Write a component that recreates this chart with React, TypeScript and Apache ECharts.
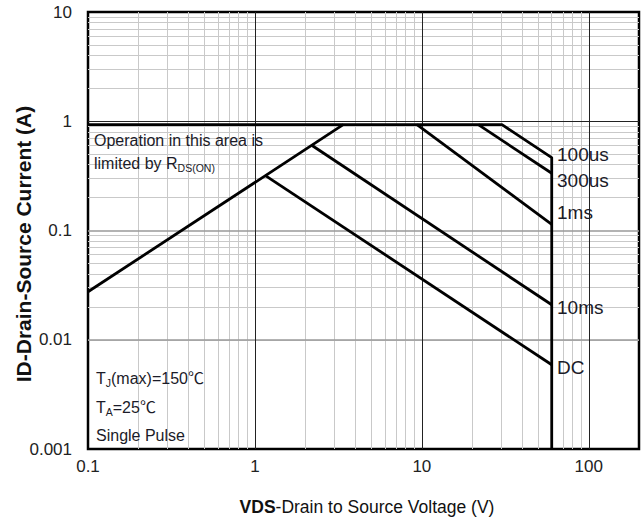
import React, { useEffect, useRef } from 'react';
import * as echarts from 'echarts';

// Axis tick labels (decades)
const xTickLabels = ['0.1', '1', '10', '100'];
const yTickLabels = ['0.001', '0.01', '0.1', '1', '10'];

// Safe operating area boundaries [VDS (V), ID (A)]
const rdsLimit = [[0.1, 0.0275], [3.38, 0.93]];
const curve100us = [[0.1, 0.93], [30.2, 0.93], [60, 0.465], [60, 0.001]];
const curve300us = [[21.8, 0.93], [60, 0.334]];
const curve1ms = [[9.35, 0.93], [60, 0.114]];
const curve10ms = [[2.2, 0.6], [60, 0.0209]];
const curveDC = [[1.15, 0.32], [60, 0.0059]];
const curveNames = ['100us', '300us', '1ms', '10ms', 'DC'];

const FONT = '"Liberation Sans", Arial, "Noto Sans CJK SC", sans-serif';

export default function App() {
  const ref = useRef<HTMLDivElement>(null);

  useEffect(() => {
    if (!ref.current) return;
    document.body.style.margin = '0';
    const chart = echarts.init(ref.current, undefined, { renderer: 'svg' });

    const xDecades = [0.1, 1, 10, 100];
    const yDecades = [0.001, 0.01, 0.1, 1];
    const minor = '#c9c9c9';
    const gridLines: any[] = [];
    xDecades.forEach((d) => {
      for (let k = 2; k <= 9; k++) {
        const v = Number((k * d).toPrecision(6));
        if (v < 200) gridLines.push({ xAxis: v, lineStyle: { color: minor, width: 1, type: 'solid' } });
      }
    });
    yDecades.forEach((d) => {
      for (let k = 2; k <= 9; k++) {
        const v = Number((k * d).toPrecision(6));
        gridLines.push({ yAxis: v, lineStyle: { color: minor, width: 1, type: 'solid' } });
      }
    });
    [0.01, 0.1].forEach((v) => gridLines.push({ yAxis: v, lineStyle: { color: '#9a9a9a', width: 1.5, type: 'solid' } }));
    gridLines.push({ yAxis: 1, lineStyle: { color: '#222', width: 1, type: 'solid' } });
    [1, 10, 100].forEach((v) => gridLines.push({ xAxis: v, lineStyle: { color: '#222', width: 1, type: 'solid' } }));

    const curveSeries = [rdsLimit, curve100us, curve300us, curve1ms, curve10ms, curveDC].map((d, i) => ({
      type: 'line',
      name: i === 0 ? 'RDS(ON)' : curveNames[i - 1],
      data: d,
      symbol: 'none',
      silent: true,
      z: 5,
      lineStyle: { color: '#000', width: 2.8 },
    }));

    const labelY = [154, 180, 212, 307, 367];
    const txt = '#1b1b28';
    const subRich = {
      s: { fontSize: 10.5, fontFamily: FONT, fill: txt, verticalAlign: 'bottom', lineHeight: 11 },
      m: { fontSize: 16, fontFamily: FONT, fill: txt, lineHeight: 20 },
    };

    const fmt = (labels: string[], offset: number) => (v: number) => {
      const l = Math.log10(v);
      const e = Math.round(l);
      if (Math.abs(l - e) > 1e-6) return '';
      return labels[e + offset] ?? '';
    };

    chart.setOption({
      animation: false,
      backgroundColor: '#fff',
      grid: {
        left: 88,
        top: 12,
        width: 551,
        height: 437,
        show: true,
        borderColor: '#000',
        borderWidth: 2.5,
        backgroundColor: 'transparent',
      },
      xAxis: {
        type: 'log',
        logBase: 10,
        min: 0.1,
        max: 200,
        axisLine: { show: false },
        axisTick: { show: false },
        splitLine: { show: false },
        axisLabel: {
          formatter: fmt(xTickLabels, 1),
          fontSize: 17,
          color: '#222',
          fontFamily: FONT,
          margin: 9,
          showMaxLabel: false,
        },
      },
      yAxis: {
        type: 'log',
        logBase: 10,
        min: 0.001,
        max: 10,
        axisLine: { show: false },
        axisTick: { show: false },
        splitLine: { show: false },
        axisLabel: {
          formatter: fmt(yTickLabels, 3),
          fontSize: 17,
          color: '#222',
          fontFamily: FONT,
          margin: 16,
        },
      },
      series: [
        {
          type: 'line',
          name: 'grid',
          data: [],
          silent: true,
          z: 1,
          markLine: {
            silent: true,
            symbol: ['none', 'none'],
            label: { show: false },
            animation: false,
            data: gridLines,
          },
        },
        ...curveSeries,
      ],
      graphic: [
        {
          type: 'text', x: 94, y: 140, z: 10,
          style: { text: 'Operation in this area is', fontSize: 16, fontFamily: FONT, fill: txt, align: 'left', verticalAlign: 'middle' },
        },
        {
          type: 'text', x: 94, y: 163, z: 10,
          style: { text: '{m|limited by R}{s|DS(ON)}', rich: subRich, align: 'left', verticalAlign: 'middle' },
        },
        {
          type: 'text', x: 96, y: 378, z: 10,
          style: { text: '{m|T}{s|J}{m|(max)=150℃}', rich: subRich, align: 'left', verticalAlign: 'middle' },
        },
        {
          type: 'text', x: 96, y: 407, z: 10,
          style: { text: '{m|T}{s|A}{m|=25℃}', rich: subRich, align: 'left', verticalAlign: 'middle' },
        },
        {
          type: 'text', x: 96, y: 435, z: 10,
          style: { text: 'Single Pulse', fontSize: 16, fontFamily: FONT, fill: txt, align: 'left', verticalAlign: 'middle' },
        },
        ...curveNames.map((n, i) => ({
          type: 'text', x: 557, y: labelY[i], z: 10,
          style: { text: n, fontSize: 19, fontFamily: FONT, fill: txt, align: 'left', verticalAlign: 'middle' },
        })),
        {
          type: 'text', x: 367, y: 507, z: 10,
          style: {
            text: '{b|VDS}{r|-Drain to Source Voltage (V)}',
            align: 'center', verticalAlign: 'middle',
            rich: {
              b: { fontSize: 17.5, fontWeight: 'bold', fontFamily: FONT, fill: '#111' },
              r: { fontSize: 17.5, fontFamily: FONT, fill: '#111' },
            },
          },
        },
        {
          type: 'text', x: 23, y: 244, rotation: Math.PI / 2, z: 10,
          style: {
            text: 'ID-Drain-Source Current (A)',
            fontSize: 21, fontWeight: 'bold', fontFamily: FONT, fill: '#111',
            align: 'center', verticalAlign: 'middle',
          },
        },
      ],
    });

    return () => chart.dispose();
  }, []);

  return (
    <div
      ref={ref}
      style={{ position: 'fixed', left: 0, top: 0, width: 642, height: 522, background: '#fff' }}
    />
  );
}
